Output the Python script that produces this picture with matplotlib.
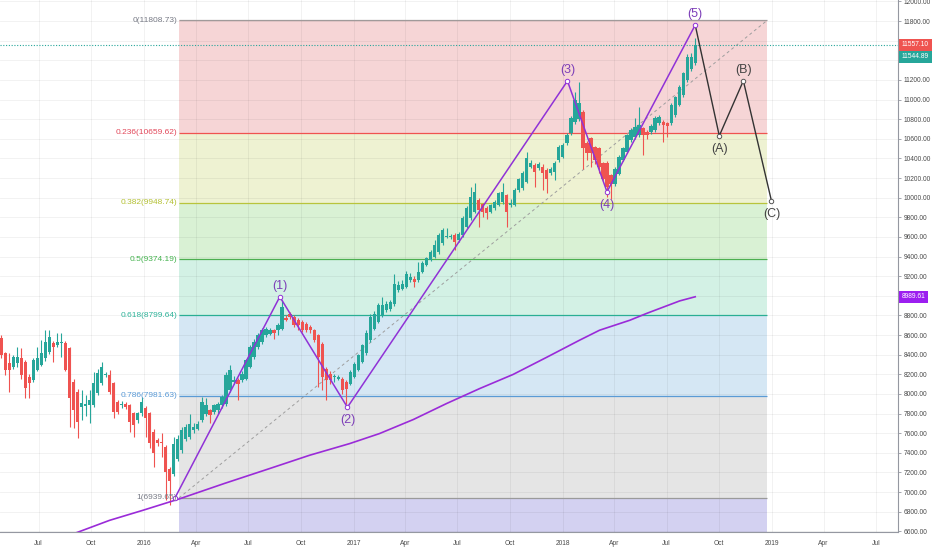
"""Weekly candles with a Fibonacci retracement, Elliott wave count and moving average."""

import matplotlib

matplotlib.use("Agg")
import matplotlib.pyplot as plt
import matplotlib.dates as mdates
import matplotlib.transforms as mtransforms
import numpy as np
import pandas as pd


# weekly candles, first bar starts in this week
FIRST_WEEK = "2015-04-27"
OPEN = [
    8566, 8413, 8312, 8278, 8312, 8362, 8329, 8176, 8142, 8244, 8295, 8362, 8430, 8515, 8498, 8515,
    8522, 8464, 8125, 8023, 7870, 7880, 7887, 7887, 8006, 8108, 8190, 8193, 8108, 7921, 7887, 7900,
    7887, 7802, 7734, 7802, 7853, 7802, 7615, 7530, 7513, 7462, 7240,
    7188, 7341, 7425, 7544, 7561, 7629, 7646, 7731, 7799, 7833, 7816, 7833, 7884, 7901, 8037, 8122,
    8139, 8139, 8156, 8275, 8377, 8479, 8530, 8598, 8615, 8649, 8649, 8666, 8778, 8819, 8785, 8751,
    8734, 8717, 8683, 8649, 8598, 8513, 8258, 8207, 8170, 8156, 8156, 8122, 8105, 8173, 8241, 8326,
    8420, 8547, 8666, 8734, 8802, 8853, 8870, 8921, 9057, 9074, 9091, 9159, 9176, 9159, 9244, 9312,
    9363, 9397, 9448, 9533, 9600, 9601, 9618, 9567, 9618, 9703, 9788, 9856, 9975, 9934, 9890, 9856,
    9890, 9924, 9958, 10026, 9924, 9924, 10077, 10094, 10162, 10315, 10332, 10298, 10315, 10281, 10247,
    10263, 10382, 10416, 10559, 10654, 10773, 10800, 10875, 10560, 10603, 10518, 10501, 10348, 10355,
    10229, 10144, 10246, 10382, 10467, 10586, 10620, 10637, 10705, 10671, 10671, 10688, 10756, 10773,
    10756, 10756, 10841, 10943, 11045, 11198, 11307, 11368,
]
HIGH = [
    8600, 8430, 8413, 8400, 8481, 8464, 8350, 8200, 8370, 8481, 8549, 8651, 8651, 8540, 8617, 8620,
    8540, 8480, 8150, 8050, 8040, 7990, 8040, 8227, 8250, 8329, 8227, 8244, 8120, 7940, 7930, 7920,
    7900, 7820, 7820, 7972, 7880, 7820, 7640, 7550, 7598, 7480, 7260,
    7560, 7580, 7660, 7690, 7800, 7700, 7720, 7970, 7960, 7850, 7900, 7920, 7990, 8220, 8290, 8180,
    8160, 8230, 8360, 8500, 8560, 8620, 8670, 8680, 8670, 8660, 8720, 8960, 8800, 8830, 8800, 8770,
    8750, 8730, 8700, 8660, 8610, 8530, 8270, 8230, 8200, 8190, 8170, 8140, 8240, 8330, 8410, 8510,
    8650, 8810, 8840, 8930, 8989, 8950, 8960, 9227, 9150, 9160, 9250, 9230, 9200, 9340, 9350, 9400,
    9470, 9567, 9640, 9690, 9686, 9630, 9640, 9650, 9810, 9910, 10111, 10145, 10000, 9950, 9910, 9940,
    9975, 10060, 10145, 10040, 9990, 10100, 10200, 10270, 10468, 10380, 10350, 10360, 10340, 10300, 10310,
    10370, 10540, 10560, 10660, 10830, 11079, 11181, 10890, 10580, 10620, 10530, 10520, 10360, 10370,
    10240, 10310, 10430, 10520, 10650, 10710, 10807, 10926, 10720, 10690, 10750, 10830, 10840, 10790,
    10770, 10960, 11040, 11150, 11280, 11460, 11470, 11623,
]
LOW = [
    8370, 8193, 8023, 8250, 8278, 8150, 7955, 7955, 8120, 8230, 8280, 8340, 8410, 8329, 8480, 8380,
    8230, 7666, 7649, 7547, 7734, 7780, 7700, 7870, 7990, 8090, 8176, 8000, 7751, 7800, 7860, 7850,
    7615, 7564, 7700, 7780, 7564, 7445, 7258, 7470, 7360, 6919, 6870,
    7160, 7320, 7400, 7520, 7540, 7600, 7630, 7710, 7780, 7700, 7800, 7800, 7860, 7880, 8020, 8100,
    7935, 8120, 8140, 8260, 8360, 8460, 8510, 8580, 8600, 8560, 8600, 8650, 8740, 8760, 8680, 8650,
    8630, 8630, 8620, 8530, 8071, 8037, 7935, 8100, 8120, 8140, 8000, 7901, 8090, 8160, 8230, 8310,
    8400, 8530, 8650, 8720, 8780, 8830, 8850, 8900, 9040, 9060, 9080, 9140, 9091, 9140, 9230, 9300,
    9350, 9380, 9430, 9520, 9590, 9580, 9465, 9550, 9600, 9690, 9770, 9840, 9696, 9800, 9780, 9840,
    9870, 9910, 9940, 9696, 9900, 9910, 10060, 10080, 10150, 10300, 10111, 10280, 10077, 10043, 10230,
    10180, 10360, 10400, 10540, 10640, 10750, 10780, 10297, 10380, 10314, 10340, 10250, 10180, 10008,
    9991, 10120, 10230, 10370, 10450, 10570, 10600, 10620, 10433, 10600, 10650, 10670, 10740, 10569,
    10620, 10740, 10820, 10930, 11030, 11180, 11290, 11350,
]
CLOSE = [
    8396, 8244, 8244, 8380, 8380, 8193, 8057, 8108, 8346, 8362, 8413, 8532, 8583, 8481, 8532, 8525,
    8244, 7955, 7836, 7717, 7904, 7900, 7938, 8108, 8210, 8278, 8205, 8023, 7819, 7819, 7900, 7870,
    7717, 7683, 7802, 7921, 7751, 7496, 7394, 7496, 7496, 7207, 7110,
    7493, 7544, 7629, 7663, 7697, 7663, 7697, 7918, 7884, 7782, 7884, 7901, 7969, 8190, 8241, 8139,
    8105, 8207, 8343, 8479, 8530, 8598, 8649, 8666, 8649, 8622, 8700, 8887, 8758, 8785, 8700, 8700,
    8649, 8649, 8649, 8547, 8377, 8173, 8139, 8139, 8180, 8173, 8037, 8054, 8224, 8309, 8394, 8496,
    8620, 8785, 8819, 8904, 8904, 8921, 8938, 9125, 9108, 9125, 9227, 9193, 9142, 9244, 9329, 9380,
    9448, 9516, 9618, 9669, 9610, 9608, 9550, 9625, 9788, 9890, 10009, 10060, 9873, 9856, 9839, 9924,
    9958, 10043, 10060, 9856, 9941, 10077, 10186, 10247, 10400, 10349, 10264, 10342, 10247, 10186, 10288,
    10348, 10518, 10535, 10637, 10807, 10994, 10960, 10501, 10450, 10450, 10382, 10314, 10195, 10110,
    10144, 10297, 10416, 10501, 10637, 10688, 10722, 10739, 10637, 10637, 10729, 10807, 10824, 10739,
    10729, 10943, 11021, 11130, 11266, 11436, 11429, 11557,
]

# moving average, read at a few dates along the curve
MA_DATES = [
    "2015-08-08", "2015-09-07", "2015-11-02", "2015-12-30", "2016-03-03", "2016-05-21",
    "2016-08-07", "2016-10-16", "2016-12-25", "2017-02-15", "2017-04-15", "2017-06-12",
    "2017-08-09", "2017-10-06", "2017-12-03", "2018-01-30", "2018-03-06", "2018-04-28",
    "2018-05-27", "2018-07-24", "2018-08-20",
]
MA_VALUES = [
    6529, 6590, 6712, 6814, 6931, 7089, 7239, 7375, 7494, 7596, 7739,
    7902, 8055, 8198, 8371, 8547, 8649, 8751, 8820, 8948, 8990,
]
MA_LAST = 8989.61

# Elliott wave count
WAVE_DATES = [
    "2016-02-24", "2016-08-25", "2016-12-21", "2018-01-09", "2018-03-19",
    "2018-08-20", "2018-10-01", "2018-11-12", "2018-12-31",
]
WAVE_PRICES = [6940, 8990, 7864, 11189, 10060, 11759, 10630, 11191, 9968]
WAVE_LABELS = ["", "(1)", "(2)", "(3)", "(4)", "(5)", "(A)", "(B)", "(C)"]

# Fibonacci retracement
FIB_RATIOS = ["0", "0.236", "0.382", "0.5", "0.618", "0.786", "1"]
FIB_PRICES = [11808.73, 10659.62, 9948.74, 9374.19, 8799.64, 7981.63, 6939.65]
FIB_EXT_PRICE = 3930.50  # 1.618, below the visible range
FIB_START = "2016-03-02"
FIB_END = "2018-12-24"

LAST_CLOSE = 11557.10
LAST_OTHER = 11544.89
HIDDEN_TICKS = [11600, 11400]  # covered by the price tags

XTICK_DATES = [
    "2015-07-01", "2015-10-01", "2016-01-01", "2016-04-01", "2016-07-01", "2016-10-01",
    "2017-01-01", "2017-04-01", "2017-07-01", "2017-10-01", "2018-01-01", "2018-04-01",
    "2018-07-01", "2018-10-01", "2019-01-01", "2019-04-01", "2019-07-01",
]
XTICK_LABELS = [
    "Jul", "Oct", "2016", "Apr", "Jul", "Oct", "2017", "Apr", "Jul", "Oct",
    "2018", "Apr", "Jul", "Oct", "2019", "Apr", "Jul",
]

UP = "#26a69a"
DOWN = "#ef5350"
WAVE = "#9032d6"
MA_COLOR = "#9a2bd8"
LINE_COLORS = ["#a09a9a", "#ef5350", "#b8c43c", "#4caf50", "#2aae94", "#5b9bd5", "#9a9a9a"]
LABEL_COLORS = ["#787b86", "#e2485a", "#b3c032", "#45b34f", "#2fb39a", "#5a9ad6", "#787b86"]
BAND_COLORS = ["#f6d5d6", "#eef2d2", "#d9f1d4", "#d3f1e5", "#d5e7f4", "#e5e5e5", "#d3d1f1"]


def num(d):
    return mdates.date2num(pd.Timestamp(d))


def price_label(v, _pos):
    if round(v) in HIDDEN_TICKS:
        return ""
    return f"{v:.2f}"


def main() -> None:
    plt.rcParams.update({"font.family": ["Liberation Sans", "DejaVu Sans"]})

    fig = plt.figure(figsize=(9.32, 5.5), dpi=100)
    ax = fig.add_axes([0, 18 / 550, 898 / 932, 532 / 550])

    px_per_day = 0.573
    jan16 = num("2016-01-01")
    ax.set_xlim(jan16 - 144 / px_per_day, jan16 + 754 / px_per_day)
    ax.set_ylim(6593, 12014)

    # background grid
    grid = (0.0, 0.0, 0.0, 0.05)
    for v in range(6600, 12001, 200):
        ax.axhline(v, color=grid, lw=0.7, zorder=1)
    for d in XTICK_DATES:
        ax.axvline(num(d), color=grid, lw=0.7, zorder=1)

    # fibonacci bands, lines and labels
    fs, fe = num(FIB_START), num(FIB_END)
    bounds = FIB_PRICES + [FIB_EXT_PRICE]
    for k, color in enumerate(BAND_COLORS):
        ax.fill_between([fs, fe], bounds[k + 1], bounds[k], color=color, lw=0, zorder=0.5)
    left_of = mtransforms.offset_copy(ax.transData, fig=fig, x=-2, y=0, units="dots")
    for ratio, price, lc, tc in zip(FIB_RATIOS, FIB_PRICES, LINE_COLORS, LABEL_COLORS):
        ax.hlines(price, fs, fe, color=lc, lw=0.9, zorder=2)
        ax.text(fs, price, f"{ratio}({price:.2f})", transform=left_of, ha="right", va="center",
                fontsize=6, color=tc, zorder=6)
    ax.plot([fs, fe], [FIB_PRICES[-1], FIB_PRICES[0]], ls=(0, (3, 3)), color="#9e9e9e", lw=0.7, zorder=2)

    # last price line
    ax.axhline(LAST_CLOSE, color=UP, ls=(0, (1, 1.5)), lw=0.8, zorder=2.5)

    # candles
    dates = mdates.date2num(pd.date_range(FIRST_WEEK, periods=len(OPEN), freq="7D"))
    o, h, l, c = (np.array(a, dtype=float) for a in (OPEN, HIGH, LOW, CLOSE))
    colors = np.where(c >= o, UP, DOWN)
    ax.vlines(dates, l, h, colors=colors, lw=0.8, zorder=3)
    body = np.maximum(np.abs(c - o), 12)
    ax.bar(dates, body, bottom=np.minimum(o, c), width=5.7, color=colors, lw=0, zorder=3.2)

    # moving average
    ax.plot([num(d) for d in MA_DATES], MA_VALUES, color=MA_COLOR, lw=1.2, zorder=3.5)

    # elliott waves
    wx = [num(d) for d in WAVE_DATES]
    ax.plot(wx[:6], WAVE_PRICES[:6], color=WAVE, lw=1.1, zorder=4)
    ax.plot(wx[5:], WAVE_PRICES[5:], color="#333333", lw=1.0, zorder=4)
    ax.plot(wx[:6], WAVE_PRICES[:6], "o", ms=3.2, mfc="white", mec=WAVE, mew=0.7, zorder=4.5)
    ax.plot(wx[6:], WAVE_PRICES[6:], "o", ms=3.2, mfc="white", mec="#555555", mew=0.7, zorder=4.5)
    for k, (x, y, lab) in enumerate(zip(wx, WAVE_PRICES, WAVE_LABELS)):
        if not lab:
            continue
        peak = WAVE_PRICES[k] > WAVE_PRICES[k - 1]
        ax.annotate(lab, (x, y), xytext=(0, 11 if peak else -13), textcoords="offset pixels",
                    ha="center", va="center", fontsize=9,
                    color="#7d3fb8" if k <= 5 else "#444444", zorder=6)

    # axes styling
    for side in ("left", "top"):
        ax.spines[side].set_visible(False)
    for side in ("right", "bottom"):
        ax.spines[side].set_color("#9598a1")
        ax.spines[side].set_linewidth(0.8)
    ax.yaxis.tick_right()
    ax.set_yticks(np.arange(6600, 12001, 200))
    ax.yaxis.set_major_formatter(price_label)
    ax.tick_params(axis="y", length=2.5, width=0.6, color="#9598a1", labelsize=4.8,
                   labelcolor="#4a4a4a", pad=1.5)
    ax.set_xticks([num(d) for d in XTICK_DATES], XTICK_LABELS)
    ax.tick_params(axis="x", length=0, labelsize=4.8, labelcolor="#4a4a4a", pad=6)

    # price tags on the axis
    tag_tr = mtransforms.blended_transform_factory(ax.transAxes, ax.transData)
    tags = [(LAST_CLOSE, LAST_CLOSE, 0, DOWN), (LAST_CLOSE, LAST_OTHER, -12, UP), (MA_LAST, MA_LAST, 0, "#9c1ff0")]
    for price, value, dy, fc in tags:
        tr = mtransforms.offset_copy(tag_tr, fig=fig, x=4, y=dy, units="dots")
        ax.text(1.0, price, f"{value:.2f}", transform=tr, ha="left", va="center", fontsize=4.8,
                color="white", clip_on=False, zorder=7,
                bbox=dict(boxstyle="square,pad=0.38", fc=fc, ec="none"))

    fig.savefig("out.png", dpi=100)


if __name__ == "__main__":
    main()
